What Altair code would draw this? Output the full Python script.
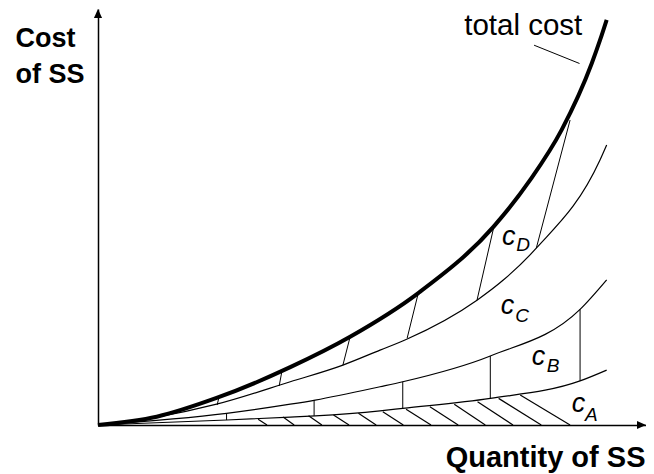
import altair as alt
import pandas as pd

# ---- curves (quantity, cost) ----
total_q = [0, 10.6, 21.4, 34.7, 45.5, 57.8, 71.4, 78.0, 83.7, 89.1, 90.6, 91.8]
total_c = [0, 2.0, 6.5, 13.9, 21.2, 31.7, 47.7, 58.9, 71.0, 86.9, 92.5, 97.4]

d_q = [0, 10.6, 21.4, 34.7, 44.2, 50.9, 55.7, 68.4, 73.2, 79.1, 90.6, 91.8]
d_c = [0, 1.9, 5.0, 10.4, 14.4, 18.0, 20.6, 30.0, 34.9, 42.5, 63.7, 67.3]

cc_q = [0, 23.2, 34.7, 39.2, 50.9, 55.0, 70.8, 87.0, 91.8]
cc_c = [0, 2.8, 5.0, 6.0, 9.2, 10.4, 16.6, 27.8, 34.9]

a_q = [0, 23.2, 34.7, 39.2, 50.9, 55.0, 70.8, 87.0, 91.8]
a_c = [0, 1.2, 1.9, 2.2, 3.4, 4.0, 6.4, 10.6, 13.2]

# ---- c_D slanted segments (total cost -> lower curve) ----
sd_q1 = [21.8, 33.2, 45.5, 57.8, 71.4, 85.2]
sd_c1 = [6.5, 13.0, 21.2, 31.7, 47.4, 73.3]
sd_q2 = [21.5, 32.7, 44.2, 55.8, 68.4, 79.1]
sd_c2 = [4.8, 9.4, 14.4, 20.9, 30.0, 42.5]

# ---- c_B vertical segments ----
vb_q = [23.2, 39.0, 55.0, 70.8, 87.0]
vb_top = [2.8, 6.0, 10.4, 16.6, 27.8]
vb_bot = [1.2, 2.2, 4.0, 6.4, 10.6]

# ---- c_A hatching ----
h_q_top = [28.9, 33.4, 38.0, 42.5, 47.0, 51.4, 55.6, 59.9, 64.3, 68.5, 72.3, 76.2]
h_c_top = [1.4, 1.9, 2.2, 2.4, 2.8, 3.2, 3.8, 4.4, 5.0, 5.6, 6.4, 7.2]
h_q_bot = [30.5, 35.4, 40.4, 45.3, 50.2, 55.1, 60.1, 65.0, 69.9, 74.9, 80.0, 85.2]

# ---- labels ----
lab_main = ["c", "c", "c", "c"]
lab_main_q = [72.9, 72.7, 78.3, 85.5]
lab_main_c = [43.3, 26.6, 14.4, 3.2]
lab_sub = ["D", "C", "B", "A"]
lab_sub_q = [75.5, 75.3, 81.0, 87.9]
lab_sub_c = [41.9, 24.7, 12.7, 1.0]

tc_text = ["total cost"]
tc_q = [66.1]
tc_c = [93.7]
leader_q = [78.7]
leader_c = [91.3]
leader_q2 = [86.9]
leader_c2 = [86.9]

X_MAX = 98.9  # end of the quantity axis (arrow tip)
Y_MAX = 100.0

FONT = "Liberation Sans"

xs = alt.Scale(domain=[0, X_MAX], nice=False, zero=False)
ys = alt.Scale(domain=[0, Y_MAX], nice=False, zero=False)
x_axis = alt.Axis(labels=False, ticks=False, grid=False, domainColor="black", domainWidth=1.5,
                  title="Quantity of SS", titleFont=FONT, titleFontSize=29, titleFontWeight="bold",
                  titleColor="black", titleAlign="right", titleAnchor="end", titleX=547, titleY=41,
                  titleBaseline="alphabetic")
y_axis = alt.Axis(labels=False, ticks=False, grid=False, domainColor="black", domainWidth=1.5,
                  title=["Cost", "of SS"], titleFont=FONT, titleFontSize=27, titleFontWeight="bold",
                  titleColor="black", titleAngle=0, titleAlign="left", titleX=-83, titleY=37,
                  titleBaseline="alphabetic", titleLineHeight=36)

X = alt.X("q:Q", scale=xs, axis=x_axis)
Y = alt.Y("c:Q", scale=ys, axis=y_axis)


def line(q, c, w):
    return alt.Chart(pd.DataFrame({"q": q, "c": c})).mark_line(
        color="black", strokeWidth=w, interpolate="monotone", strokeCap="butt"
    ).encode(x=X, y=Y, order=alt.Order("q:Q"))


def segs(q1, c1, q2, c2, w=1.0):
    df = pd.DataFrame({"q": q1, "c": c1, "q2": q2, "c2": c2})
    return alt.Chart(df).mark_rule(color="black", strokeWidth=w).encode(
        x=X, y=Y, x2="q2:Q", y2="c2:Q")


layers = [
    line(a_q, a_c, 1.2),
    line(cc_q, cc_c, 1.2),
    line(d_q, d_c, 1.2),
    segs(sd_q1, sd_c1, sd_q2, sd_c2, 1.0),
    segs(vb_q, vb_top, vb_q, vb_bot, 1.0),
    segs(h_q_top, h_c_top, h_q_bot, [0] * len(h_q_bot), 1.2),
    segs(leader_q, leader_c, leader_q2, leader_c2, 1.0),
    line(total_q, total_c, 4),
]

# axis arrowheads
arrow_x = alt.Chart(pd.DataFrame({"q": [X_MAX], "c": [0]})).mark_point(
    shape="M0,0L-2,-0.9L-2,0.9Z", size=81, filled=True, color="black", opacity=1, strokeWidth=0
).encode(x=X, y=Y)
arrow_y = alt.Chart(pd.DataFrame({"q": [0], "c": [Y_MAX]})).mark_point(
    shape="M0,0L-0.9,2L0.9,2Z", size=81, filled=True, color="black", opacity=1, strokeWidth=0
).encode(x=X, y=Y)
layers += [arrow_x, arrow_y]

main_txt = alt.Chart(pd.DataFrame({"q": lab_main_q, "c": lab_main_c, "t": lab_main})).mark_text(
    font=FONT, fontSize=27, fontStyle="italic", align="left", baseline="alphabetic", color="black"
).encode(x=X, y=Y, text="t:N")
sub_txt = alt.Chart(pd.DataFrame({"q": lab_sub_q, "c": lab_sub_c, "t": lab_sub})).mark_text(
    font=FONT, fontSize=19, fontStyle="italic", align="left", baseline="alphabetic", color="black"
).encode(x=X, y=Y, text="t:N")
tc_txt = alt.Chart(pd.DataFrame({"q": tc_q, "c": tc_c, "t": tc_text})).mark_text(
    font=FONT, fontSize=29.5, align="left", baseline="alphabetic", color="black"
).encode(x=X, y=Y, text="t:N")
layers += [main_txt, sub_txt, tc_txt]

chart = alt.layer(*layers).properties(
    width=548, height=416,
    autosize=alt.AutoSizeParams(type="none"),
    padding={"left": 90, "top": 1, "right": 0, "bottom": 49},
).configure_view(stroke=None)

chart.save("out.html", embed_options={"renderer": "svg", "actions": False})
